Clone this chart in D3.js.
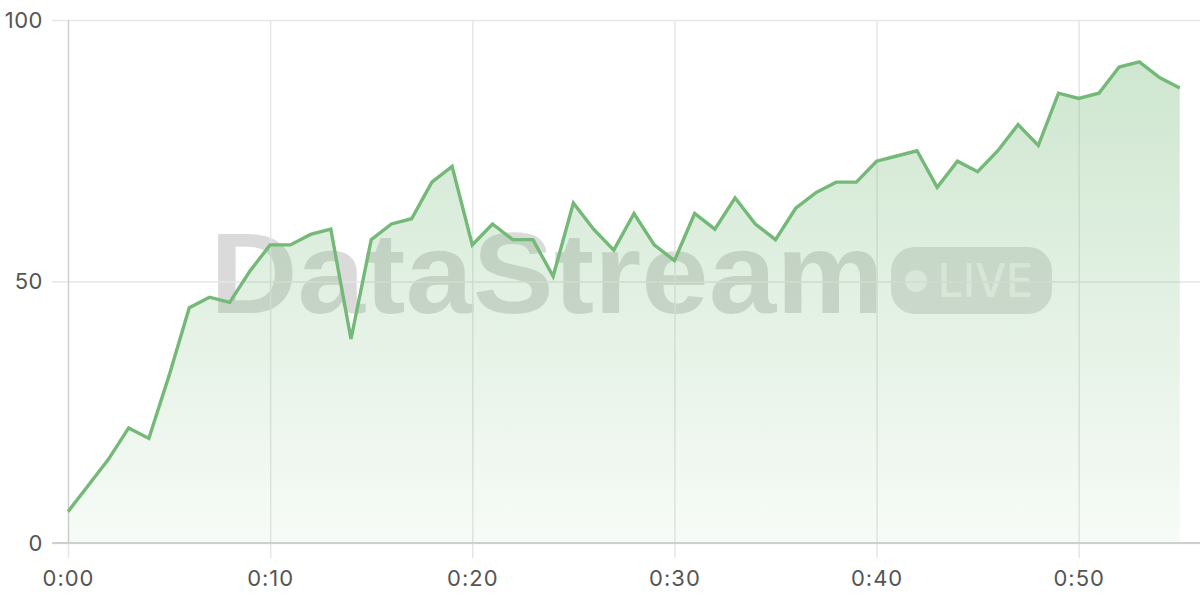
<!DOCTYPE html>
<html>
<head>
<meta charset="utf-8">
<script src="https://cdn.jsdelivr.net/npm/d3@7"></script>
<style>
  html, body { margin: 0; padding: 0; background: #fff; }
  svg { display: block; }
</style>
</head>
<body>
<svg id="chart" width="1200" height="600"></svg>
<script>
// Data: one value per minute, 0:00 .. 0:55
const minutes = d3.range(0, 56);
const values = [6, 11, 16, 22, 20, 32, 45, 47, 46, 52,
                57, 57, 59, 60, 39, 58, 61, 62, 69, 72,
                57, 61, 58, 58, 51, 65, 60, 56, 63, 57,
                54, 63, 60, 66, 61, 58, 64, 67, 69, 69,
                73, 74, 75, 68, 73, 71, 75, 80, 76, 86,
                85, 86, 91, 92, 89, 87];
const xTicks = [0, 10, 20, 30, 40, 50];
const xTickLabels = ["0:00", "0:10", "0:20", "0:30", "0:40", "0:50"];
const yTicks = [0, 50, 100];
const watermarkText = "DataStream";
const badgeText = "LIVE";

const data = minutes.map((m, i) => ({ m, v: values[i] }));

const svg = d3.select("#chart");
const mLeft = 68, mRight = 1200, mTop = 20, mBottom = 543;
const labelFont = "Inter, 'Liberation Sans', Arial, sans-serif";

const x = d3.scaleLinear().domain([0, 56]).range([mLeft, mRight]);
const y = d3.scaleLinear().domain([0, 100]).range([mBottom, mTop]);

// gradient
const defs = svg.append("defs");
const grad = defs.append("linearGradient").attr("id", "areaGrad")
  .attr("x1", 0).attr("y1", 0).attr("x2", 0).attr("y2", 1);
grad.append("stop").attr("offset", "0%").attr("stop-color", "#78bb7b").attr("stop-opacity", 0.36);
grad.append("stop").attr("offset", "100%").attr("stop-color", "#78bb7b").attr("stop-opacity", 0.06);

// watermark
const wm = svg.append("g").attr("class", "watermark");
wm.append("text")
  .attr("x", 210).attr("y", 313)
  .style("font-family", "'Liberation Sans', Arial, sans-serif")
  .style("font-size", "115px").style("font-weight", 700)
  .attr("textLength", 674).attr("lengthAdjust", "spacingAndGlyphs")
  .attr("fill", "#000").attr("fill-opacity", 0.145)
  .text(watermarkText);
wm.append("rect")
  .attr("x", 891).attr("y", 247).attr("width", 161).attr("height", 67)
  .attr("rx", 24).attr("ry", 24)
  .attr("fill", "#000").attr("fill-opacity", 0.12);
wm.append("circle")
  .attr("cx", 916).attr("cy", 281).attr("r", 11)
  .attr("fill", "#fff").attr("fill-opacity", 0.6);
wm.append("text")
  .attr("x", 938).attr("y", 297)
  .style("font-family", labelFont)
  .style("font-size", "46px").style("font-weight", 500)
  .attr("textLength", 95).attr("lengthAdjust", "spacingAndGlyphs")
  .attr("fill", "#fff").attr("fill-opacity", 0.6)
  .text(badgeText);

// grid: horizontal
const yAxis = d3.axisLeft(y).tickValues(yTicks).tickSize(16).tickPadding(8);
const gy = svg.append("g").attr("transform", `translate(${mLeft},0)`).call(yAxis);
gy.select(".domain").remove();
gy.selectAll(".tick line").attr("x2", -16).attr("stroke", "#e6e6e6").attr("stroke-width", 1.5);
gy.selectAll(".tick").append("line").attr("x1", 0).attr("x2", mRight - mLeft)
  .attr("stroke", "#e6e6e6").attr("stroke-width", 1.5);
gy.selectAll(".tick text").attr("fill", "#555").attr("x", -25)
  .style("font-family", labelFont).style("font-size", "22px").style("letter-spacing", "0.5px");

// grid: vertical
const xAxis = d3.axisBottom(x).tickValues(xTicks)
  .tickFormat((d, i) => xTickLabels[i]).tickSize(15).tickPadding(12);
const gx = svg.append("g").attr("transform", `translate(0,${mBottom})`).call(xAxis);
gx.select(".domain").remove();
gx.selectAll(".tick line").attr("stroke", "#e6e6e6").attr("stroke-width", 1.5);
gx.selectAll(".tick").append("line").attr("y1", 0).attr("y2", mTop - mBottom)
  .attr("stroke", (d) => d === 0 ? "#cfcfcf" : "#e6e6e6").attr("stroke-width", 1.5);
gx.selectAll(".tick text").attr("fill", "#555")
  .style("font-family", labelFont).style("font-size", "22px").style("letter-spacing", "1px");

// area + line
const area = d3.area().x(d => x(d.m)).y0(y(0)).y1(d => y(d.v));
const line = d3.line().x(d => x(d.m)).y(d => y(d.v));
svg.append("path").datum(data).attr("d", area).attr("fill", "url(#areaGrad)");

// bottom axis line
svg.append("line").attr("x1", mLeft - 16).attr("x2", mRight)
  .attr("y1", y(0)).attr("y2", y(0)).attr("stroke", "#cfcfcf").attr("stroke-width", 2);

svg.append("path").datum(data).attr("d", line)
  .attr("fill", "none").attr("stroke", "#74b978").attr("stroke-width", 3.4)
  .attr("stroke-linejoin", "miter");
</script>
</body>
</html>
